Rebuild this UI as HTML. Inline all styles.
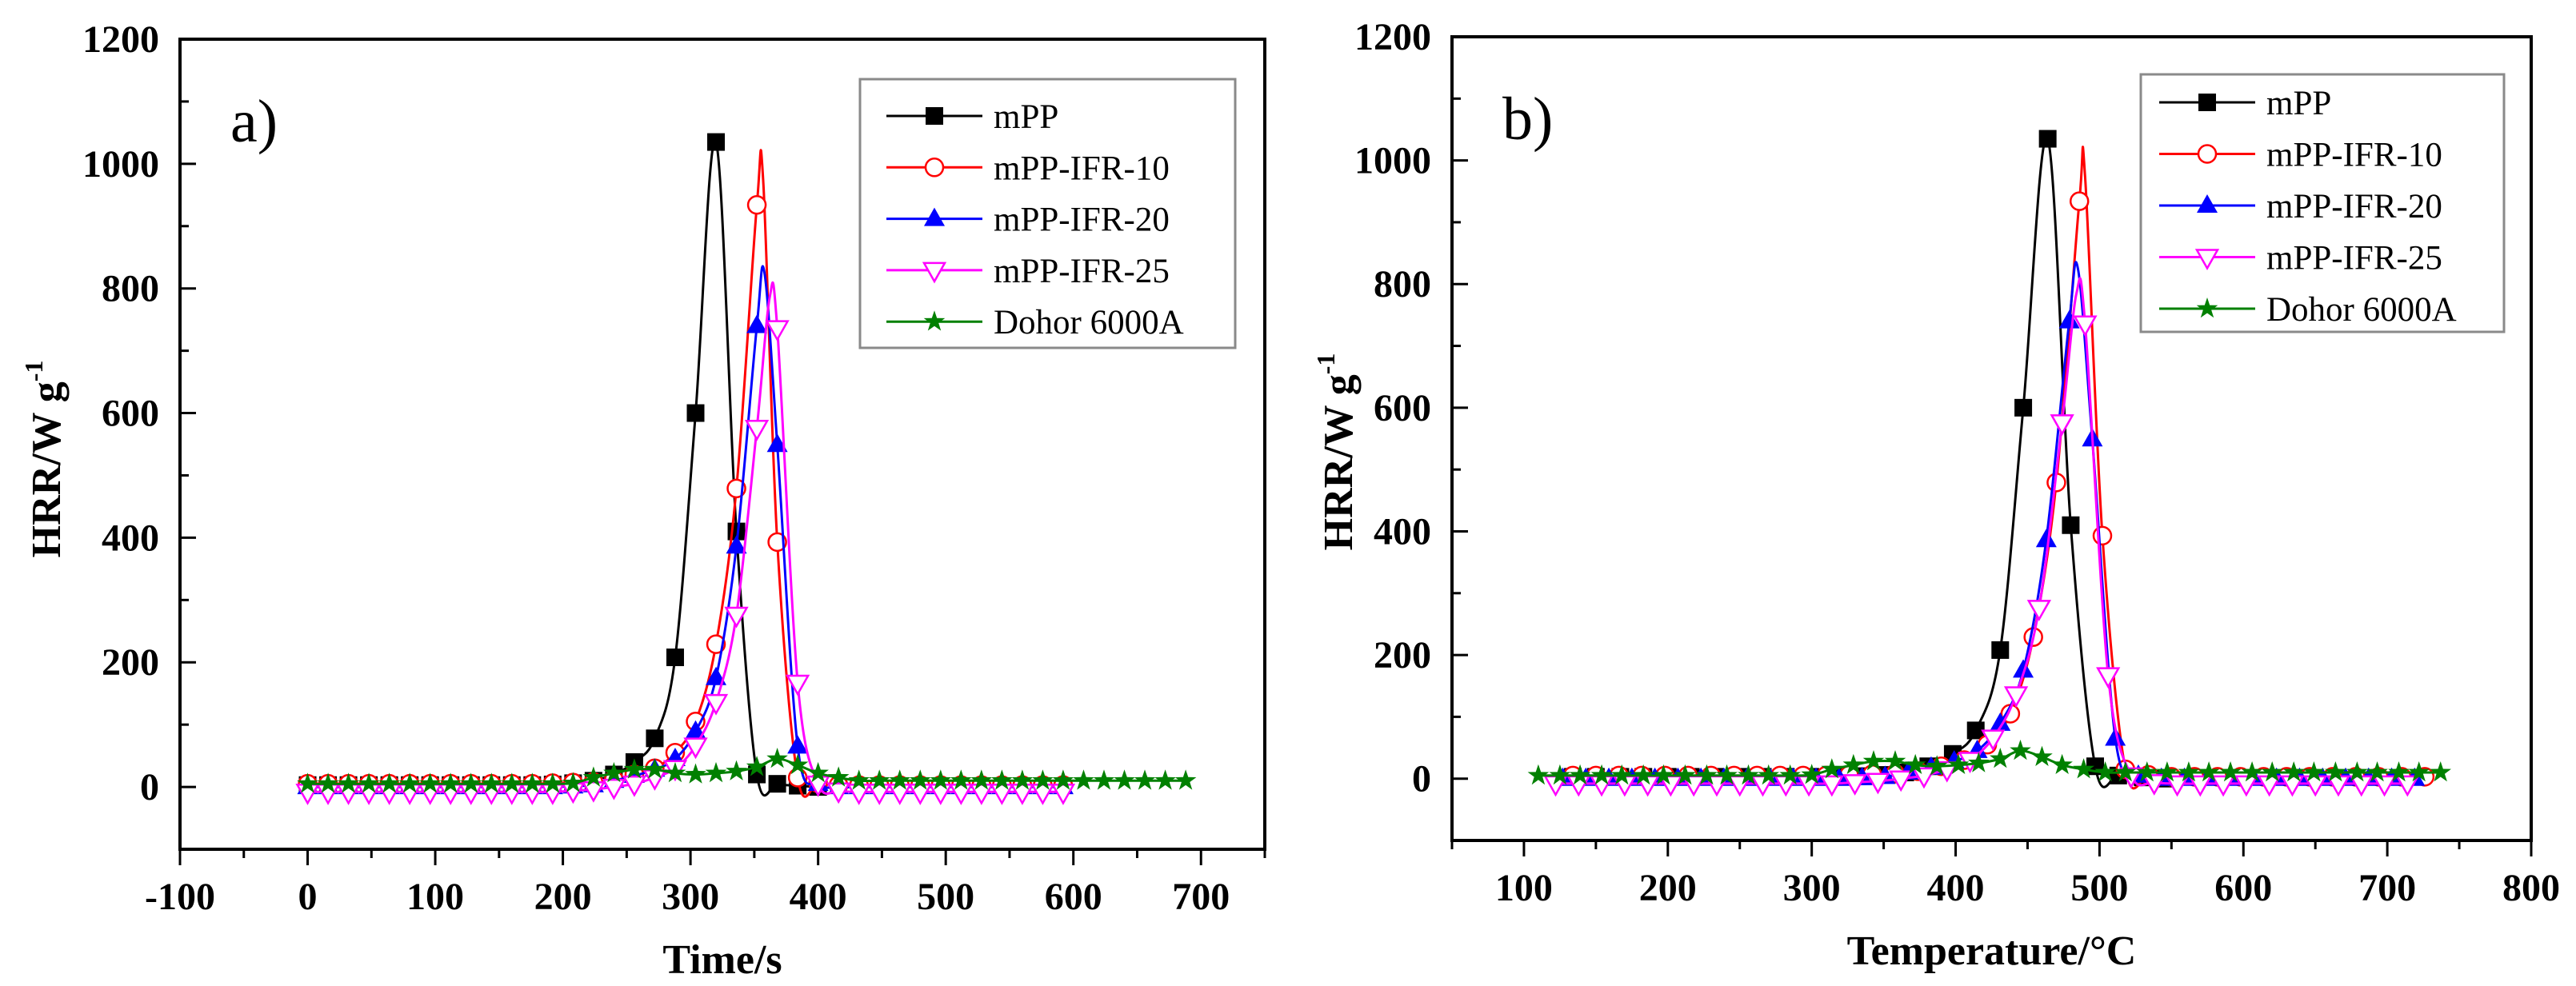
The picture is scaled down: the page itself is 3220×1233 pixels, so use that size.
<!DOCTYPE html>
<html><head><meta charset="utf-8">
<style>
html,body{margin:0;padding:0;background:#fff;}
svg{display:block;}
text{font-family:"Liberation Serif",serif;}
.tick{font-weight:bold;font-size:48px;}
.title{font-weight:bold;font-size:52px;}
.leg{font-size:43px;}
</style></head>
<body>
<svg id="chart" width="3220" height="1233" viewBox="0 0 3220 1233" xmlns="http://www.w3.org/2000/svg"></svg>
<script>
// ---- data ----
const timeS = [0,16,32,48,64,80,96,112,128,144,160,176,192,208,224,240,256,272,288,304,320,336,352,368,384,400,416,432,448,464,480,496,512,528,544,560,576,592,608,624,640,656,672,688];
const hrrMPP   = [3,3,3,3,3,3,3,3,3,3,3,3,4,6,10,20,40,78,208,600,1035,410,20,5,2,0];
const hrrIFR10 = [5,5,5,5,5,5,5,5,5,5,5,5,6,7,8,12,20,30,55,105,229,479,934,393,15,6,3,3,3,3,3,3,3,3,3,3,3,3];
const hrrIFR20 = [0,0,0,0,0,0,0,0,0,0,0,0,0,1,3,10,18,28,45,89,175,386,740,549,65,5,0,0,0,0,0,0,0,0,0,0,0,0];
const hrrIFR25 = [-8,-8,-8,-8,-8,-8,-8,-8,-8,-8,-8,-8,-8,-6,-4,0,5,15,30,66,136,276,576,736,167,5,-6,-8,-8,-8,-8,-8,-8,-8,-8,-8,-8,-8];
const hrrDohor = [5,5,5,5,5,5,5,5,5,5,5,5,5,6,15,22,28,28,22,20,22,25,32,45,35,22,15,10,10,10,10,10,10,10,10,10,10,10,10,10,10,10,10,10];
// line-only apex points (peak between markers): [mPP, IFR10, IFR20, IFR25, Dohor]
const apexTime  = [null,357,358,362,null];
const apexTemp  = [null,490,485,484,null];
const apexValue = [null,973,825,785,null];
const tempMPP   = [134,150,167,183,200,216,233,249,266,282,299,315,332,348,365,381,398,414,431,447,464,480,497,513,530,546];
const tempIFR10 = [134,150,166,182,198,214,230,246,262,278,294,310,326,342,358,374,390,406,422,438,454,470,486,502,518,534,550,566,582,598,614,630,646,662,678,694,710,726];
const tempIFR20 = [127,143,159,175,191,207,223,239,255,271,287,303,319,335,351,367,383,399,415,431,447,463,479,495,511,527,543,559,575,591,607,623,639,655,671,687,703,719];
const tempIFR25 = [122,138,154,170,186,202,218,234,250,266,282,298,314,330,346,362,378,394,410,426,442,458,474,490,506,522,538,554,570,586,602,618,634,650,666,682,698,714];
const tempDohor = [110,125,139,154,168,183,197,212,227,241,256,270,285,300,314,329,343,358,372,387,402,416,431,445,460,474,489,504,518,533,547,562,576,591,606,620,635,649,664,679,693,708,722,737];
const seriesNames = ["mPP","mPP-IFR-10","mPP-IFR-20","mPP-IFR-25","Dohor 6000A"];
const yTicks = [0,200,400,600,800,1000,1200];
const xTicksA = [-100,0,100,200,300,400,500,600,700];
const xTicksB = [100,200,300,400,500,600,700,800];

const NS="http://www.w3.org/2000/svg";
const svg=document.getElementById('chart');
function mk(tag,attrs,parent){const e=document.createElementNS(NS,tag);for(const k in attrs)e.setAttribute(k,attrs[k]);(parent||svg).appendChild(e);return e;}

const styles=[
 {color:"#000000",marker:"square",key:"mpp"},
 {color:"#ff0000",marker:"circle",key:"ifr10"},
 {color:"#0000ff",marker:"tri",key:"ifr20"},
 {color:"#ff00ff",marker:"tridown",key:"ifr25"},
 {color:"#008000",marker:"star",key:"dohor"}];

function marker(g,type,x,y,color){
  let e;
  if(type==="square"){e=mk('rect',{x:x-11,y:y-11,width:22,height:22,fill:color},g);}
  else if(type==="circle"){e=mk('circle',{cx:x,cy:y,r:11,fill:'#fff',stroke:color,'stroke-width':2.5},g);}
  else if(type==="tri"){e=mk('polygon',{points:`${x},${y-14} ${x-13},${y+9} ${x+13},${y+9}`,fill:color},g);}
  else if(type==="tridown"){e=mk('polygon',{points:`${x-13},${y-9} ${x+13},${y-9} ${x},${y+14}`,fill:'#fff',stroke:color,'stroke-width':2.5},g);}
  else {let p=[];for(let i=0;i<10;i++){const r=i%2?5.5:14;const a=-Math.PI/2+i*Math.PI/5;p.push((x+r*Math.cos(a)).toFixed(1)+','+(y+r*Math.sin(a)).toFixed(1));}
    e=mk('polygon',{points:p.join(' '),fill:color},g);}
  
  
  return e;
}
function spline(pts){
  let d=`M${pts[0][0]},${pts[0][1]}`;
  for(let i=0;i<pts.length-1;i++){
    const p0=pts[Math.max(0,i-1)],p1=pts[i],p2=pts[i+1],p3=pts[Math.min(pts.length-1,i+2)];
    const c1x=p1[0]+(p2[0]-p0[0])/6,c1y=p1[1]+(p2[1]-p0[1])/6;
    const c2x=p2[0]-(p3[0]-p1[0])/6,c2y=p2[1]-(p3[1]-p1[1])/6;
    d+=` C${c1x.toFixed(1)},${c1y.toFixed(1)} ${c2x.toFixed(1)},${c2y.toFixed(1)} ${p2[0].toFixed(1)},${p2[1].toFixed(1)}`;
  }
  return d;
}

function panel(cfg){
  const g=mk('g',{});
  
  
  const X=v=>cfg.x0+(v-cfg.xmin)*(cfg.x1-cfg.x0)/(cfg.xmax-cfg.xmin);
  const Y=v=>cfg.y1-(v-(-100))*(cfg.y1-cfg.y0)/1300;
  cfg.series.forEach((s,si)=>{
    const st=styles[si];
    const sg=mk('g',{},g);
    
    
    const pts=s.x.map((xv,i)=>[X(xv),Y(s.y[i])]);
    let linePts=s.x.map((xv,i)=>[xv,s.y[i]]);
    if(s.ax!=null){linePts.push([s.ax,s.av]);linePts.sort((a,b)=>a[0]-b[0]);}
    const lp=linePts.map(p=>[X(p[0]),Y(p[1])]);
    const path=mk('path',{d:spline(lp),fill:'none',stroke:st.color,'stroke-width':3},sg);
    
    
    pts.forEach(p=>marker(sg,st.marker,p[0],p[1],st.color));
  });
  const fr=mk('rect',{x:cfg.x0,y:cfg.y0,width:cfg.x1-cfg.x0,height:cfg.y1-cfg.y0,fill:'none',stroke:'#000','stroke-width':4},g);
  
  
  for(let v=-100;v<=1200;v+=100){
    const major=yTicks.includes(v);
    const t=mk('line',{x1:cfg.x0,x2:cfg.x0+(major?20:11),y1:Y(v),y2:Y(v),stroke:'#000','stroke-width':3},g);
    
    
  }
  yTicks.forEach(v=>{
    const t=mk('text',{x:cfg.x0-26,y:Y(v)+16,'text-anchor':'end',class:'tick'},g);
    t.textContent=v;
    
    
  });
  for(let v=cfg.xmin;v<=cfg.xmax;v+=50){
    const major=cfg.xt.includes(v)||v%100===0;
    const t=mk('line',{x1:X(v),x2:X(v),y1:cfg.y1,y2:cfg.y1+(major?20:11),stroke:'#000','stroke-width':3},g);
    
    
  }
  cfg.xt.forEach(v=>{
    const t=mk('text',{x:X(v),y:cfg.y1+75,'text-anchor':'middle',class:'tick'},g);
    t.textContent=v;
    
    
  });
  const xt=mk('text',{x:(cfg.x0+cfg.x1)/2,y:cfg.y1+155,'text-anchor':'middle',class:'title'},g);
  xt.textContent=cfg.xtitle;
  
  
  const yt=mk('text',{x:0,y:0,'text-anchor':'middle',class:'title',transform:`translate(${cfg.ytx},${cfg.yty}) rotate(-90)`},g);
  yt.innerHTML='HRR/W g<tspan dy="-22" font-size="32">-1</tspan>';
  
  
  const pl=mk('text',{x:cfg.x0+63,y:cfg.y0+128,'font-size':76},g);
  pl.textContent=cfg.label;
  
  
  const L=cfg.leg;
  const lg=mk('g',{},g);
  
  
  const lb=mk('rect',{x:L.x,y:L.y,width:L.w,height:L.h,fill:'#fff',stroke:'#8a8a8a','stroke-width':3},lg);
  
  
  seriesNames.forEach((n,i)=>{
    const st=styles[i];
    const ry=L.r0+i*L.dr;
    const eg=mk('g',{},lg);
    
    
    mk('line',{x1:L.lx,x2:L.lx+120,y1:ry,y2:ry,stroke:st.color,'stroke-width':3},eg);
    marker(eg,st.marker,L.lx+60,ry,st.color);
    const tx=mk('text',{x:L.lx+134,y:ry+15,class:'leg'},eg);
    tx.textContent=n;
    
    
  });
}

const hrr=[hrrMPP,hrrIFR10,hrrIFR20,hrrIFR25,hrrDohor];
const temps=[tempMPP,tempIFR10,tempIFR20,tempIFR25,tempDohor];
panel({name:'panel-a',x0:225,x1:1581,y0:49,y1:1062,xmin:-100,xmax:750,xt:xTicksA,xtitle:'Time/s',label:'a)',ytx:75,yty:574,
  leg:{x:1075,y:99,w:469,h:336,r0:145,dr:64.3,lx:1108},
  series:hrr.map((y,i)=>({x:timeS.slice(0,y.length),y:y,ax:apexTime[i],av:apexValue[i]}))});
panel({name:'panel-b',x0:1815,x1:3164,y0:46,y1:1051,xmin:50,xmax:800,xt:xTicksB,xtitle:'Temperature/°C',label:'b)',ytx:1690,yty:565,
  leg:{x:2676,y:93,w:454,h:322,r0:128,dr:64.5,lx:2699},
  series:hrr.map((y,i)=>({x:temps[i],y:y,ax:apexTemp[i],av:apexValue[i]}))});
</script>
</body></html>
